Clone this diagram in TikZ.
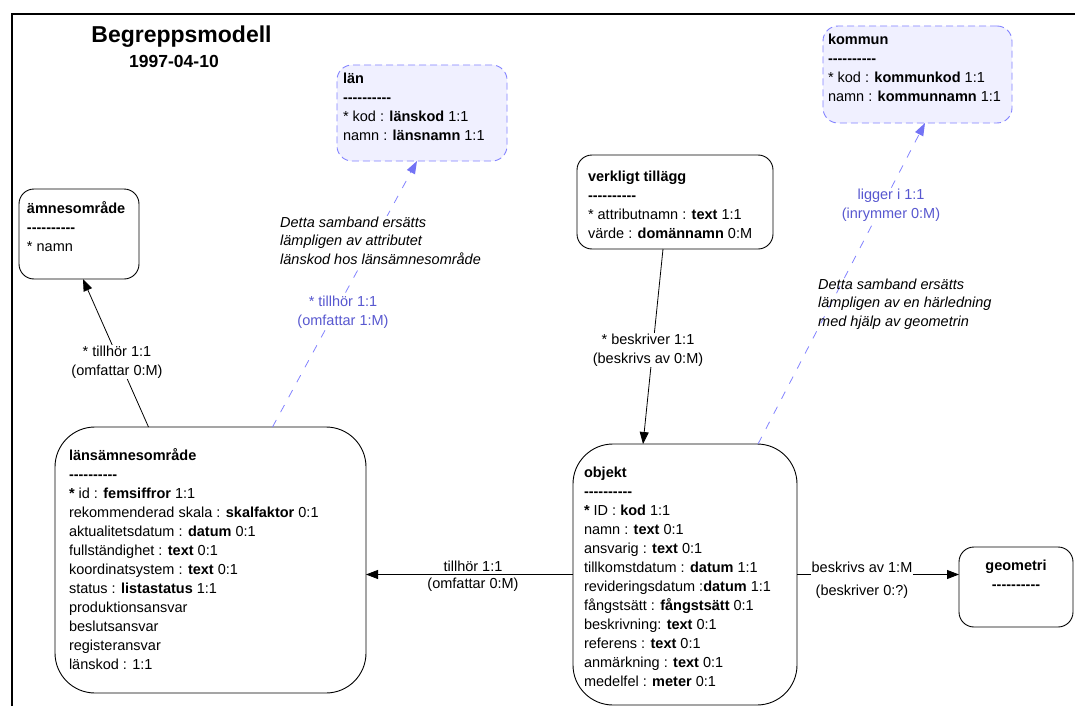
\documentclass[tikz,border=0pt]{standalone}
\usepackage{fontspec}
\setmainfont{Liberation Sans}
\usetikzlibrary{arrows.meta,calc}
\definecolor{lblue}{RGB}{88,88,208}
\definecolor{dblue}{RGB}{130,130,255}
\definecolor{tblue}{RGB}{115,115,245}
\definecolor{bfill}{RGB}{240,240,255}
\newcommand\dashline{\textbf{-{}-{}-{}-{}-{}-{}-{}-{}-{}-}}
\newcommand\entbox[4]{\parbox[c][#2][t]{#1}{\raggedright\rule{0pt}{#3}#4}}
\newcommand\centbox[4]{\parbox[c][#2][t]{#1}{\centering\rule{0pt}{#3}#4}}
\begin{document}
\begin{tikzpicture}[x=1pt,y=-1pt,
  font=\fontsize{14.5}{19}\selectfont,
  ent/.style={draw, line width=0.9pt, rounded corners=15pt, inner ysep=0pt, anchor=north west, outer sep=0pt},
  bigent/.style={ent, rounded corners=40pt},
  dent/.style={ent, draw=dblue, fill=bfill, dash pattern=on 7pt off 4pt},
  conn/.style={line width=0.8pt, -{Triangle[length=12pt,width=9pt]}},
  dline/.style={line width=0.8pt, draw=dblue, dash pattern=on 8pt off 9pt},
  lbl/.style={align=center, fill=white, inner sep=1pt},
  note/.style={align=left, font=\fontsize{14.5}{18.5}\selectfont\itshape, inner sep=1pt, anchor=west}]
\useasboundingbox (0,0) rectangle (1075,706);
% frame
\draw[line width=2pt] (12,706) -- (12,14) -- (1075,14);
% title
\node[font=\bfseries\fontsize{23}{27}\selectfont, anchor=base, inner sep=0pt] (title) at (181.5,43) {Begreppsmodell};
\node[font=\bfseries\fontsize{17.5}{20}\selectfont, anchor=base, inner sep=0pt] (date) at (174,68) {1997-04-10};
% entities
\node[ent, inner xsep=8pt] (amne) at (19,189) {\entbox{104pt}{90pt}{24pt}{\textbf{ämnesområde}\\ \dashline\\ {*} namn}};
\node[dent, inner xsep=6pt] (lan) at (337,65) {\entbox{158pt}{96pt}{18pt}{\textbf{län}\\ \dashline\\ {*} kod : \textbf{länskod} 1:1\\ namn : \textbf{länsnamn} 1:1}};
\node[dent, inner xsep=5pt] (kommun) at (823,26) {\entbox{179pt}{97pt}{19pt}{\textbf{kommun}\\ \dashline\\ {*} kod : \textbf{kommunkod} 1:1\\ namn : \textbf{kommunnamn} 1:1}};
\node[ent, inner xsep=11pt] (verk) at (577,155) {\entbox{174pt}{94pt}{26pt}{\textbf{verkligt tillägg}\\ \dashline\\ {*} attributnamn : \textbf{text} 1:1\\ värde : \textbf{domännamn} 0:M}};
\node[bigent, inner xsep=14pt] (lans) at (55,427) {\entbox{283pt}{266pt}{33pt}{\textbf{länsämnesområde}\\ \dashline\\ \textbf{*} id : \textbf{femsiffror} 1:1\\ rekommenderad skala : \textbf{skalfaktor} 0:1\\ aktualitetsdatum : \textbf{datum} 0:1\\ fullständighet : \textbf{text} 0:1\\ koordinatsystem : \textbf{text} 0:1\\ status : \textbf{listastatus} 1:1\\ produktionsansvar\\ beslutsansvar\\ registeransvar\\ länskod : 1:1}};
\node[bigent, inner xsep=11pt] (objekt) at (573,444) {\entbox{202pt}{261pt}{33pt}{\textbf{objekt}\\ \dashline\\ \textbf{*} ID : \textbf{kod} 1:1\\ namn : \textbf{text} 0:1\\ ansvarig : \textbf{text} 0:1\\ tillkomstdatum : \textbf{datum} 1:1\\ revideringsdatum :\textbf{datum} 1:1\\ fångstsätt : \textbf{fångstsätt} 0:1\\ beskrivning: \textbf{text} 0:1\\ referens : \textbf{text} 0:1\\ anmärkning : \textbf{text} 0:1\\ medelfel : \textbf{meter} 0:1}};
\node[ent, inner xsep=5pt] (geo) at (959,547) {\centbox{104pt}{80pt}{23pt}{\textbf{geometri}\\ \dashline}};
% connectors
\coordinate (c1a) at ([xshift=-62pt]lans.north);
\coordinate (c1b) at ([xshift=4pt]amne.south);
\coordinate (c2a) at ([xshift=62pt]lans.north);
\coordinate (c2b) at ([xshift=-5pt]lan.south);
\coordinate (c3a) at ([xshift=-12pt]verk.south);
\coordinate (c3b) at ([xshift=-42pt]objekt.north);
\coordinate (c4a) at ([xshift=73pt]objekt.north);
\coordinate (c4b) at ([xshift=7.5pt]kommun.south);
\draw[conn] (c1a) -- (c1b);
\draw[conn] (c3a) -- (c3b);
\draw[dline] (c2a) -- ($(c2b)!10pt!(c2a)$);
\draw[dline] (c4a) -- ($(c4b)!10pt!(c4a)$);
\fill[tblue] let \p1=($(c2a)-(c2b)$), \n1={atan2(\y1,\x1)} in
  (c2b) -- ($(c2b)+(\n1+20:13.5pt)$) -- ($(c2b)+(\n1-20:13.5pt)$) -- cycle;
\fill[tblue] let \p1=($(c4a)-(c4b)$), \n1={atan2(\y1,\x1)} in
  (c4b) -- ($(c4b)+(\n1+20:13.5pt)$) -- ($(c4b)+(\n1-20:13.5pt)$) -- cycle;
\draw[conn] (objekt.west) -- (objekt.west -| lans.east);
\draw[conn] (objekt.east) -- (objekt.east -| geo.west);
% labels
\node[lbl] (l1) at (117,362) {{*} tillhör 1:1\\(omfattar 0:M)};
\node[lbl, text=lblue] (l2) at (343,312) {{*} tillhör 1:1\\(omfattar 1:M)};
\node[lbl] (l3) at (648,350) {{*} beskriver 1:1\\(beskrivs av 0:M)};
\node[lbl, text=lblue] (l4) at (891,205) {ligger i 1:1\\(inrymmer 0:M)};
\node[align=center, inner sep=0pt, font=\fontsize{14.5}{16.5}\selectfont] (l5) at (473,576) {tillhör 1:1\\(omfattar 0:M)};
\node[lbl, font=\fontsize{14.5}{23}\selectfont] (l6) at (862,580) {beskrivs av 1:M\\(beskriver 0:?)};
% notes
\node[note, fill=white] (n1) at (279,240.5) {Detta samband ersätts\\lämpligen av attributet\\länskod hos länsämnesområde};
\node[note] (n2) at (817,304) {Detta samband ersätts\\lämpligen av en härledning\\med hjälp av geometrin};
\end{tikzpicture}
\end{document}
